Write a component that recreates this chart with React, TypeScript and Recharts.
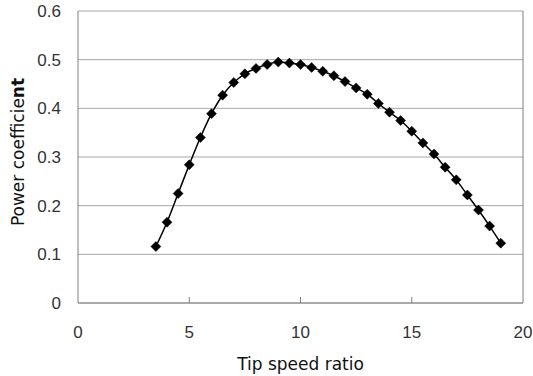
import React from 'react';
import { LineChart, Line, XAxis, YAxis, CartesianGrid, ReferenceLine, Label } from 'recharts';

const tipSpeedRatio = [
  3.5, 4, 4.5, 5, 5.5, 6, 6.5, 7, 7.5, 8, 8.5, 9, 9.5, 10, 10.5, 11,
  11.5, 12, 12.5, 13, 13.5, 14, 14.5, 15, 15.5, 16, 16.5, 17, 17.5, 18, 18.5, 19,
];
const powerCoefficient = [
  0.116, 0.166, 0.225, 0.284, 0.34, 0.389, 0.427, 0.453, 0.471, 0.482, 0.49, 0.495, 0.493, 0.49, 0.484, 0.476,
  0.467, 0.455, 0.442, 0.429, 0.41, 0.392, 0.375, 0.353, 0.329, 0.306, 0.279, 0.253, 0.222, 0.191, 0.158, 0.123,
];
const xTicks = [0, 5, 10, 15, 20];
const yTicks = [0, 0.1, 0.2, 0.3, 0.4, 0.5, 0.6];

const data = tipSpeedRatio.map((tsr, i) => ({ tsr, cp: powerCoefficient[i] }));

const TICK_GAP = 23;
const tickFont = { fontFamily: '"Liberation Sans", Arial, sans-serif', fontSize: 17, fill: '#333' };
const titleFont = { fontFamily: '"DejaVu Sans", sans-serif', fontSize: 17, fill: '#111' };

// x ticks sit inside the plot (pointing up), labels below
const XTick = ({ x, y, payload }: any) => {
  const axisY = y - TICK_GAP;
  const inner = payload.value > 0 && payload.value < 20;
  return (
    <g>
      {inner && <line x1={x} x2={x} y1={axisY} y2={axisY - 6} stroke="#808080" />}
      <text x={x} y={y} dy="0.71em" textAnchor="middle" {...tickFont}>
        {payload.value}
      </text>
    </g>
  );
};

const Diamond = ({ cx, cy }: any) => {
  if (cx == null || cy == null) return null;
  const r = 5;
  return (
    <polygon
      points={`${cx},${cy - r} ${cx + r},${cy} ${cx},${cy + r} ${cx - r},${cy}`}
      fill="#000"
      stroke="#000"
      strokeWidth={0.5}
    />
  );
};

const YTitle = () => (
  <text x={24} y={152} transform="rotate(-90, 24, 152)" textAnchor="middle" {...titleFont}>
    Power coefficie<tspan fontWeight="bold">nt</tspan>
  </text>
);

export default function App() {
  return (
    <div style={{ position: 'absolute', left: 0, top: 0, width: 533, height: 376, background: '#fff' }}>
      <LineChart width={533} height={376} data={data} margin={{ top: 11, right: 10, left: 0, bottom: 3 }}>
        <CartesianGrid vertical={false} stroke="#a6a6a6" />
        <XAxis
          dataKey="tsr"
          type="number"
          domain={[0, 20]}
          ticks={xTicks}
          height={70}
          tickSize={0}
          tickMargin={TICK_GAP}
          tickLine={false}
          tick={<XTick />}
          axisLine={{ stroke: '#808080' }}
        >
          <Label value="Tip speed ratio" position="insideBottom" offset={3} {...titleFont} />
        </XAxis>
        <YAxis
          type="number"
          domain={[0, 0.6]}
          ticks={yTicks}
          width={78}
          tickSize={0}
          tickMargin={17}
          tickLine={false}
          axisLine={{ stroke: '#808080' }}
          tick={tickFont}
        >
          <Label content={<YTitle />} />
        </YAxis>
        <ReferenceLine x={20} stroke="#808080" />
        <Line
          type="monotone"
          dataKey="cp"
          stroke="#000"
          strokeWidth={1.5}
          dot={<Diamond />}
          activeDot={false}
          isAnimationActive={false}
        />
      </LineChart>
    </div>
  );
}
